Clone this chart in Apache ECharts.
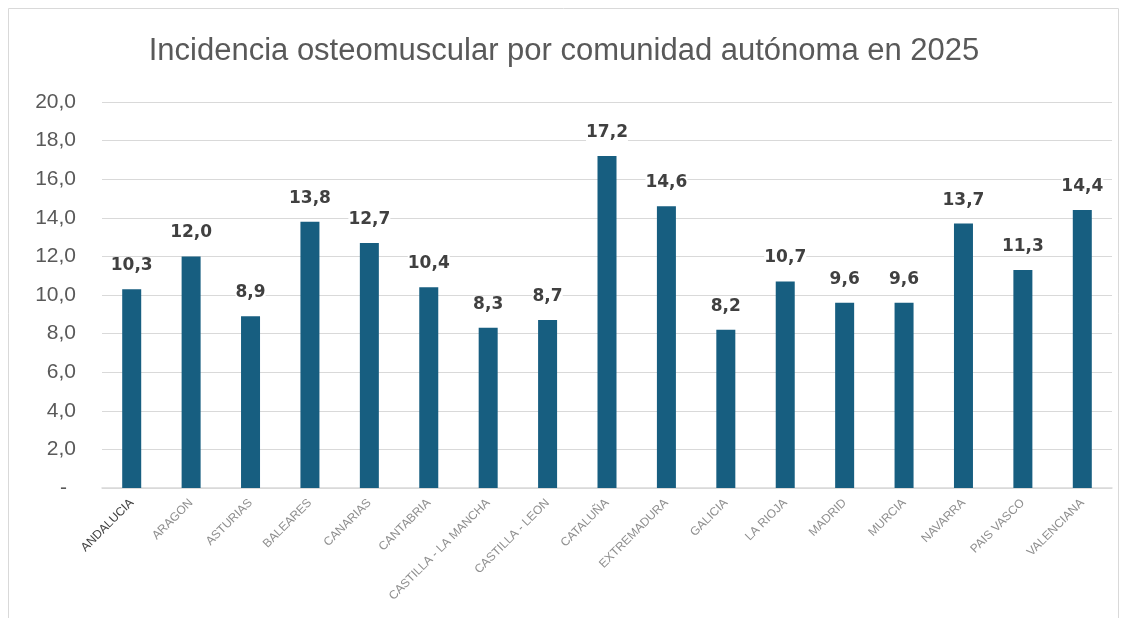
<!DOCTYPE html>
<html>
<head>
<meta charset="utf-8">
<script src="https://cdn.jsdelivr.net/npm/echarts@6/dist/echarts.min.js"></script>
<style>
	html, body { margin: 0; padding: 0; background: #fff; }
	#chart { width: 1128px; height: 618px; }
</style>
</head>
<body>
<div id="chart"></div>
<script>
	var categories = ['ANDALUCIA', 'ARAGON', 'ASTURIAS', 'BALEARES', 'CANARIAS', 'CANTABRIA',
		'CASTILLA - LA MANCHA', 'CASTILLA - LEON', 'CATALUÑA', 'EXTREMADURA', 'GALICIA',
		'LA RIOJA', 'MADRID', 'MURCIA', 'NAVARRA', 'PAIS VASCO', 'VALENCIANA'];
	var values = [10.3, 12.0, 8.9, 13.8, 12.7, 10.4, 8.3, 8.7, 17.2, 14.6, 8.2, 10.7, 9.6, 9.6, 13.7, 11.3, 14.4];
	var title = 'Incidencia osteomuscular por comunidad autónoma en 2025';

	function fmt(v) {
		return v.toFixed(1).replace('.', ',');
	}

	var option = {
		animation: false,
		textStyle: { fontFamily: 'Liberation Sans, Arial, sans-serif' },
		title: {
			text: title,
			left: 'center',
			top: 31,
			textStyle: { fontSize: 31, fontWeight: 'normal', color: '#595959' }
		},
		graphic: [{
			type: 'rect',
			shape: { x: 8.5, y: 8.5, width: 1110, height: 620 },
			style: { fill: 'none', stroke: '#d9d9d9', lineWidth: 1 }
		}],
		grid: { left: 102, right: 16, top: 102, bottom: 130 },
		xAxis: {
			type: 'category',
			data: categories,
			axisTick: { show: false },
			axisLine: { lineStyle: { color: '#d9d9d9', width: 1.5 } },
			axisLabel: {
				interval: 0,
				rotate: 45,
				fontSize: 12,
				margin: 13,
				color: function (value, index) {
					return index === 0 ? '#404040' : '#8f8f8f';
				}
			}
		},
		yAxis: {
			type: 'value',
			min: 0,
			max: 20,
			interval: 2,
			axisLine: { show: false },
			axisTick: { show: false },
			splitLine: { lineStyle: { color: '#d9d9d9', width: 1 } },
			axisLabel: {
				fontSize: 21,
				color: '#595959',
				margin: 26,
				formatter: function (v) {
					return v === 0 ? '{d|-}' : fmt(v);
				},
				rich: {
					d: { fontSize: 21, color: '#595959', padding: [0, 9, 0, 0] }
				}
			}
		},
		series: [{
			type: 'bar',
			data: values,
			barWidth: 19,
			itemStyle: { color: '#175e80' },
			label: {
				show: true,
				position: 'top',
				distance: 15,
				fontFamily: 'DejaVu Sans, sans-serif',
				fontSize: 17,
				fontWeight: 'bold',
				color: '#404040',
				backgroundColor: '#fff',
				formatter: function (p) { return fmt(p.value); }
			}
		}]
	};

	var myChart = echarts.init(document.getElementById('chart'));
	myChart.setOption(option);
</script>
</body>
</html>
